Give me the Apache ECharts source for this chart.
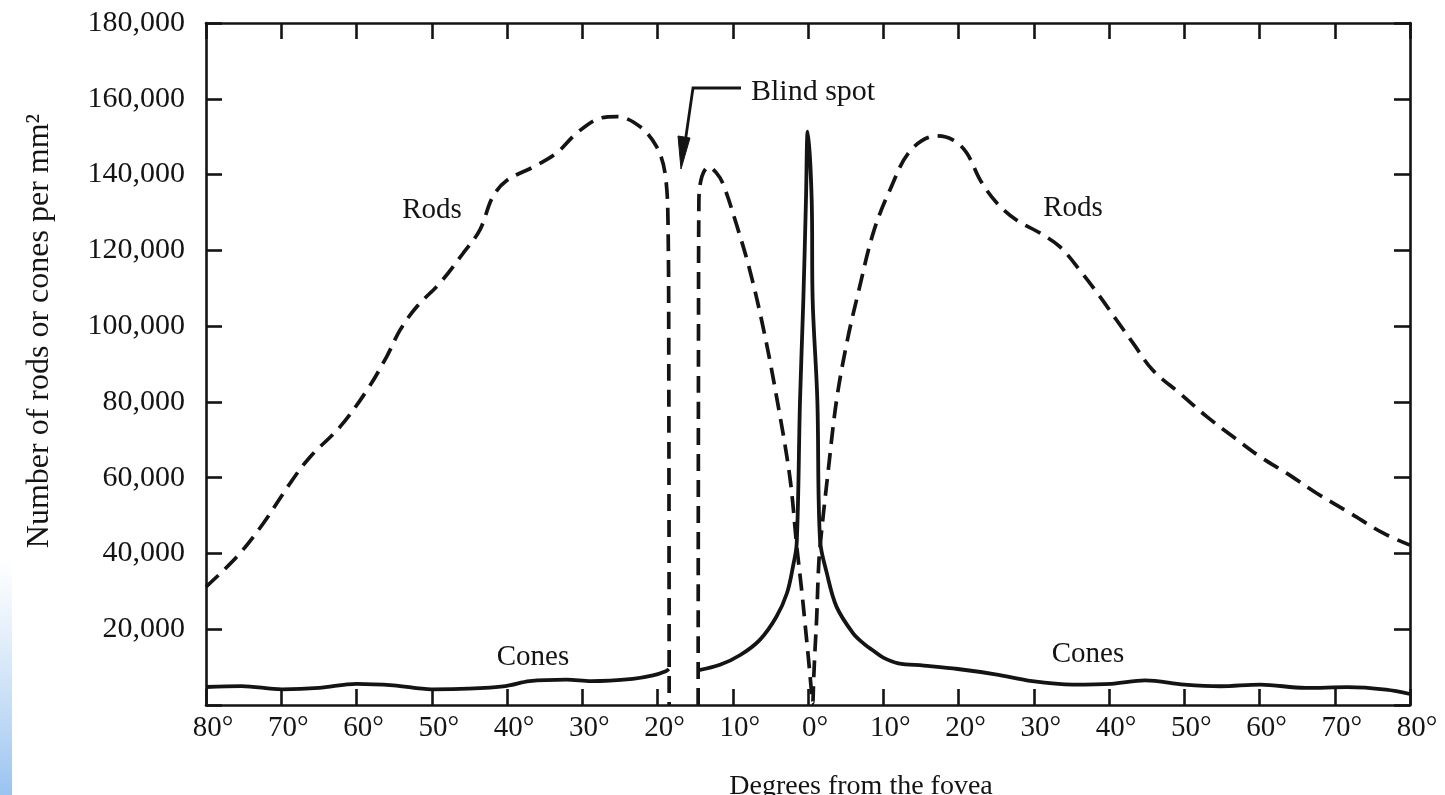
<!DOCTYPE html>
<html>
<head>
<meta charset="utf-8">
<script src="https://cdn.jsdelivr.net/npm/echarts@6/dist/echarts.min.js"></script>
<style>
html,body{margin:0;padding:0;background:#fff;}
#chart{width:1445px;height:795px;}
</style>
</head>
<body>
<div id="chart"></div>
<script>
// ---- Data (degrees from fovea: negative = left side as drawn, value = count per mm^2) ----
const xTicks = [-80,-70,-60,-50,-40,-30,-20,-10,0,10,20,30,40,50,60,70,80];
const yTicks = [0,20000,40000,60000,80000,100000,120000,140000,160000,180000];

const rodsLeft = [
  [-80,31200],[-75.9,39100],[-72.4,47900],[-68.8,58600],[-66.2,65400],[-62.2,73400],
  [-58.6,83100],[-56.0,91900],[-54.2,99000],[-52.0,105100],[-48.9,111400],[-45.8,119300],
  [-43.6,125400],[-41.9,134100],[-40.0,138500],[-36.5,142000],[-33.4,145700],[-30.7,151000],
  [-27.6,154900],[-25.4,155300],[-22.3,152600],[-20.1,147300],[-19.0,140400],[-18.6,127000],
  [-18.5,90000],[-18.45,0]
];
const rodsRight = [
  [-14.6,0],[-14.55,100000],[-14.5,133000],[-14.1,139500],[-13.2,142000],[-12.2,140500],
  [-11.3,137600],[-9.5,126800],[-7.7,114500],[-5.9,99100],[-4.2,81600],[-2.4,60000],
  [-1.5,42000],[-0.84,30300],[-0.4,21600],[0.04,12700],[0.36,5800],[0.62,500],
  [0.75,6600],[0.93,14500],[1.16,23300],[1.37,34800],[1.6,41800],[2.7,62100],[3.8,80500],
  [5.2,96000],[6.7,109000],[8.7,124800],[10.9,136000],[13.6,146300],[17.1,150200],
  [19.3,149100],[21.1,145700],[22.9,138500],[25.1,132500],[27.7,128000],[30.8,124600],
  [33.5,120900],[36.1,114800],[38.8,107800],[41.0,101600],[43.2,95500],[45.8,88400],
  [49.4,82300],[53.0,76100],[56.5,70800],[60.1,65500],[63.6,61200],[67.6,55900],
  [72.0,50700],[76.4,45400],[80,42200]
];
const conesLeft = [
  [-80,4750],[-75.3,5000],[-69.9,4150],[-65,4500],[-60,5600],[-55.1,5200],[-50,4150],
  [-45.2,4300],[-40.2,5000],[-37.0,6300],[-32.1,6700],[-28.8,6300],[-23.3,6900],
  [-20.6,7800],[-18.9,8900],[-18.5,9500]
];
const conesRight = [
  [-14.5,9200],[-11.7,10600],[-9.0,13200],[-6.4,17200],[-4.2,23300],[-2.8,29500],
  [-2.0,36500],[-1.5,42700],[-1.06,80500],[-0.62,106900],[-0.27,133300],[-0.04,151300],
  [0.49,133300],[0.62,106900],[1.24,80500],[1.6,43500],[2.5,34800],[3.8,25900],
  [6.0,18900],[7.4,16200],[8.7,14300],[10.0,12500],[12.0,11000],[15.4,10400],[19.9,9500],
  [24.9,8100],[29.8,6300],[35.2,5400],[40.3,5600],[44.8,6500],[50.0,5400],[54.8,4950],
  [60.1,5400],[66.1,4500],[71.7,4700],[76.8,4050],[80,2900]
];

// ---- Chart ----
const FONT = '"Liberation Serif", "Times New Roman", serif';
const INK = '#141414';
const chart = echarts.init(document.getElementById('chart'), null, {renderer:'canvas'});

const axisLineStyle = {color: INK, width: 2.6};
const tickStyle = {show:true, inside:true, length:16, lineStyle:{color:INK, width:2.6}};

const rodStyle = {color: INK, width: 3.7, type: [17, 9], cap: 'butt'};
const coneStyle = {color: INK, width: 3.8};

function lineSeries(name, data, style) {
  return {
    name, type: 'line', data, showSymbol: false, symbol: 'none',
    smooth: 0.35,
    lineStyle: style, animation: false, silent: true,
    xAxisIndex: 0, yAxisIndex: 0
  };
}

function valueAxis(extra) {
  return Object.assign({
    type: 'value',
    axisLine: {show: true, onZero: false, lineStyle: axisLineStyle},
    axisTick: tickStyle,
    splitLine: {show: false}
  }, extra);
}

const option = {
  backgroundColor: '#ffffff',
  animation: false,
  grid: {left: 206, right: 35, top: 23, bottom: 90, containLabel: false},
  xAxis: [
    valueAxis({
      min: -80, max: 80, interval: 10, position: 'bottom',
      axisLabel: {
        show: true, margin: 9, color: INK, fontFamily: FONT, fontSize: 29,
        padding: [0, 0, 0, 14],
        formatter: v => Math.abs(v) + '°'
      }
    }),
    valueAxis({min: -80, max: 80, interval: 10, position: 'top', axisLabel: {show: false}})
  ],
  yAxis: [
    valueAxis({
      min: 0, max: 180000, interval: 20000, position: 'left',
      axisLabel: {
        show: true, margin: 21, color: INK, fontFamily: FONT, fontSize: 30,
        formatter: v => (v === 0 ? '' : v.toLocaleString('en-US'))
      }
    }),
    valueAxis({min: 0, max: 180000, interval: 20000, position: 'right', axisLabel: {show: false}})
  ],
  series: [
    lineSeries('Rods (before blind spot)', rodsLeft, rodStyle),
    lineSeries('Rods (after blind spot)', rodsRight, rodStyle),
    lineSeries('Cones (before blind spot)', conesLeft, coneStyle),
    lineSeries('Cones (after blind spot)', conesRight, coneStyle)
  ],
  graphic: [
    {
      type: 'rect', left: 0, top: 560, silent: true,
      shape: {width: 12, height: 235},
      style: {fill: new echarts.graphic.LinearGradient(0, 0, 0, 1, [
        {offset: 0, color: 'rgba(150,195,240,0)'},
        {offset: 1, color: 'rgba(120,175,235,0.75)'}
      ])}
    },
    {
      type: 'text', x: 40, y: 331, rotation: Math.PI / 2, silent: true,
      style: {text: 'Number of rods or cones per mm²', fill: INK, font: '32px ' + FONT,
              textAlign: 'center', textVerticalAlign: 'middle'}
    },
    {
      type: 'text', x: 861, y: 787, silent: true,
      style: {text: 'Degrees from the fovea', fill: INK, font: '28px ' + FONT,
              textAlign: 'center', textVerticalAlign: 'middle'}
    },
    {type: 'text', x: 432, y: 210, silent: true,
     style: {text: 'Rods', fill: INK, font: '29px ' + FONT, textAlign: 'center', textVerticalAlign: 'middle'}},
    {type: 'text', x: 1073, y: 208, silent: true,
     style: {text: 'Rods', fill: INK, font: '29px ' + FONT, textAlign: 'center', textVerticalAlign: 'middle'}},
    {type: 'text', x: 533, y: 657, silent: true,
     style: {text: 'Cones', fill: INK, font: '29px ' + FONT, textAlign: 'center', textVerticalAlign: 'middle'}},
    {type: 'text', x: 1088, y: 654, silent: true,
     style: {text: 'Cones', fill: INK, font: '29px ' + FONT, textAlign: 'center', textVerticalAlign: 'middle'}},
    {type: 'text', x: 751, y: 92, silent: true,
     style: {text: 'Blind spot', fill: INK, font: '30px ' + FONT, textAlign: 'left', textVerticalAlign: 'middle'}},
    {type: 'polyline', silent: true,
     shape: {points: [[741, 88], [693, 88], [684, 150]]},
     style: {stroke: INK, lineWidth: 2.8, fill: null}},
    {type: 'polygon', silent: true,
     shape: {points: [[678, 136], [690, 138], [681, 169]]},
     style: {fill: INK, stroke: INK, lineWidth: 1}}
  ]
};
chart.setOption(option);
</script>
</body>
</html>
